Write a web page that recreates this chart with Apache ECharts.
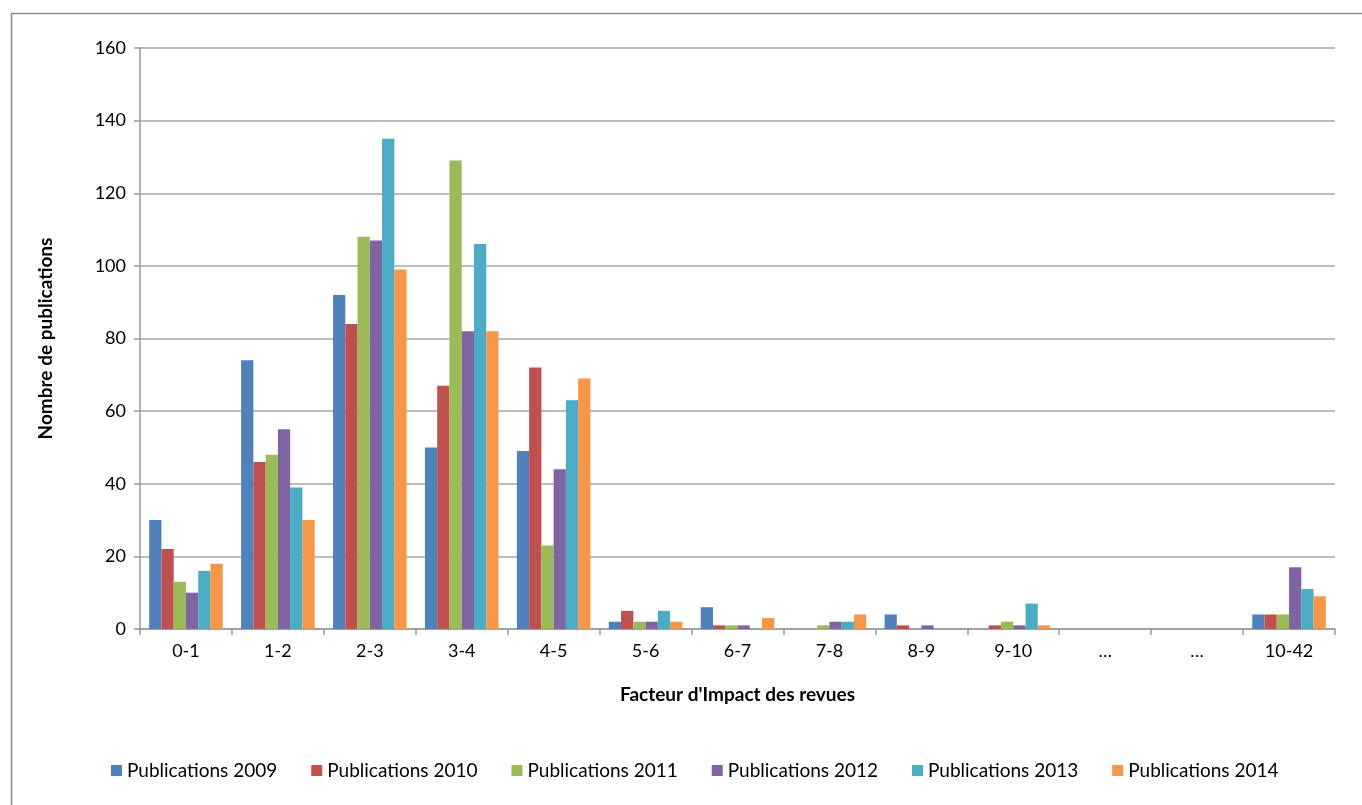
<!DOCTYPE html>
<html><head><meta charset="utf-8">
<script src="https://cdn.jsdelivr.net/npm/echarts@6/dist/echarts.min.js"></script>
<style>html,body{margin:0;padding:0;background:#fff}#c{width:1362px;height:805px}</style>
</head><body><div id="c"></div>
<script>
const categories = ['0-1','1-2','2-3','3-4','4-5','5-6','6-7','7-8','8-9','9-10','…','…','10-42'];
const seriesNames = ['Publications 2009','Publications 2010','Publications 2011','Publications 2012','Publications 2013','Publications 2014'];
const pub2009 = [30,74,92,50,49,2,6,0,4,0,0,0,4];
const pub2010 = [22,46,84,67,72,5,1,0,1,1,0,0,4];
const pub2011 = [13,48,108,129,23,2,1,1,0,2,0,0,4];
const pub2012 = [10,55,107,82,44,2,1,2,1,1,0,0,17];
const pub2013 = [16,39,135,106,63,5,0,2,0,7,0,0,11];
const pub2014 = [18,30,99,82,69,2,3,4,0,1,0,0,9];
const colors = ['#4F81BD','#C0504D','#9BBB59','#8064A2','#4BACC6','#F79646'];
const allData = [pub2009,pub2010,pub2011,pub2012,pub2013,pub2014];
const font = 'Lato, "Open Sans", sans-serif';
const chart = echarts.init(document.getElementById('c'));
chart.setOption({
  animation:false,
  color: colors,
  graphic:[{type:'rect',shape:{x:11.5,y:13.5,width:1360,height:800},style:{fill:'none',stroke:'#8c8c8c',lineWidth:1.5},silent:true}],
  grid:{left:140,right:27,top:48,bottom:176,containLabel:false},
  legend:{left:106,top:756,itemWidth:11,itemHeight:11,itemGap:34,icon:'rect',
    textStyle:{fontFamily:font,fontSize:19,color:'#000'},data:seriesNames},
  xAxis:{type:'category',data:categories,
    axisLine:{lineStyle:{color:'#999',width:1.5}},
    axisTick:{show:true,length:6,lineStyle:{color:'#999',width:1.5}},
    axisLabel:{fontFamily:font,fontSize:18,color:'#000',margin:13},
    name:"Facteur d'Impact des revues",nameLocation:'middle',nameGap:56,
    nameTextStyle:{fontFamily:font,fontSize:19,fontWeight:'bold',color:'#000'}},
  yAxis:{type:'value',min:0,max:160,interval:20,
    axisLine:{show:true,lineStyle:{color:'#999',width:1.5}},
    axisTick:{show:true,length:6,lineStyle:{color:'#999',width:1.5}},
    splitLine:{lineStyle:{color:'#a6a6a6',width:1.5}},
    axisLabel:{fontFamily:font,fontSize:18,color:'#000',margin:14},
    name:'Nombre de publications',nameLocation:'middle',nameGap:85,
    nameTextStyle:{fontFamily:font,fontSize:19,fontWeight:'bold',color:'#000'}},
  series: seriesNames.map((n,i)=>({name:n,type:'bar',data:allData[i],barGap:'0%',barCategoryGap:'20%',
    itemStyle:{color:colors[i]}}))
});
</script></body></html>
